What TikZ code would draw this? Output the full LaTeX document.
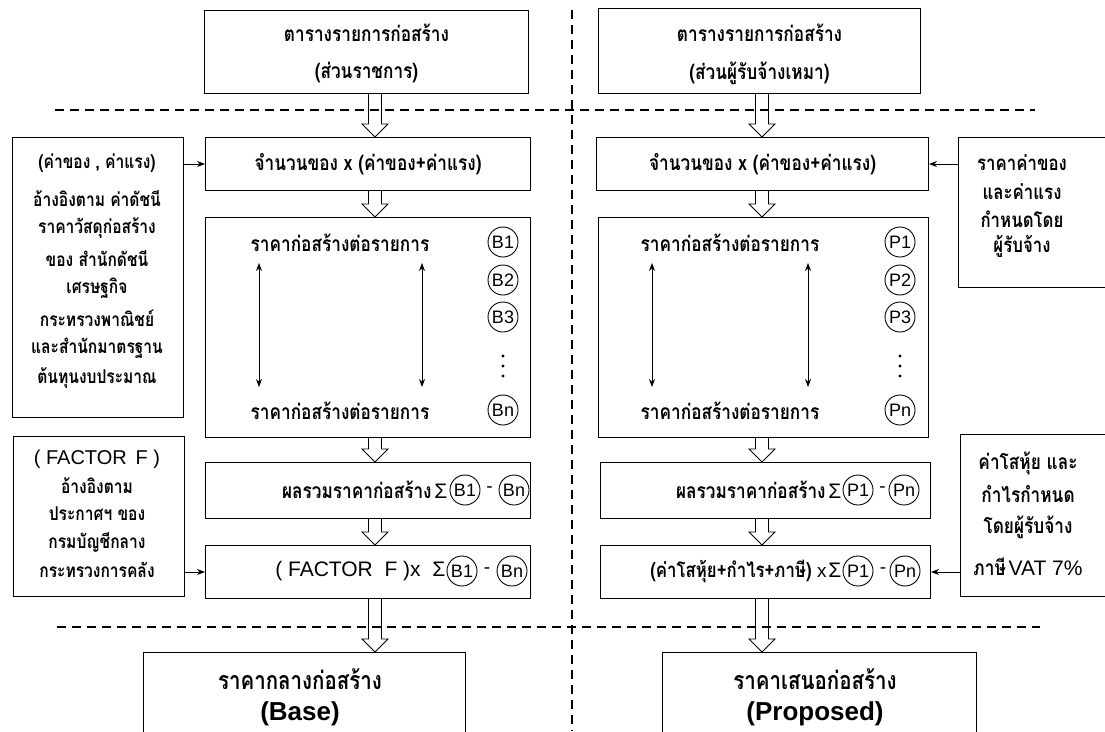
\documentclass[tikz,border=0pt]{standalone}
\usepackage{fontspec}
\setmainfont{Liberation Sans}
\newfontfamily\thai[Script=Thai, FakeStretch=0.82]{Loma}
\usetikzlibrary{arrows.meta,calc}
\newcommand\harrow[2]{%
  \draw[line width=0.9pt] let \p1=(#1), \p2=(#2) in
    (\x1-6.5pt,\y1) -- (\x1-6.5pt,\y2+13pt) -- (\x1-13pt,\y2+13pt) -- (\x2,\y2)
    -- (\x1+13pt,\y2+13pt) -- (\x1+6.5pt,\y2+13pt) -- (\x1+6.5pt,\y1);}
\begin{document}
\begin{tikzpicture}[x=1pt,y=-1pt,
  box/.style={draw, line width=1pt, inner sep=0pt, anchor=north west},
  th/.style={font=\thai\bfseries\fontsize{21}{25}\selectfont, inner sep=0pt},
  ths/.style={font=\thai\bfseries\fontsize{19}{25}\selectfont, inner sep=0pt},
  thr/.style={font=\thai\bfseries\fontsize{21}{25}\selectfont, inner sep=0pt},
  lat/.style={font=\fontsize{19}{25}\selectfont, inner sep=0pt},
  circ/.style={draw, circle, line width=0.9pt, minimum size=30pt, inner sep=0pt, font=\fontsize{18}{18}\selectfont},
  dashline/.style={line width=1.4pt, dash pattern=on 9pt off 6pt},
  side/.style={line width=0.9pt, -{Stealth[length=8pt,width=6pt]}},
  dbl/.style={line width=0.9pt, {Stealth[length=8pt,width=6pt]}-{Stealth[length=8pt,width=6pt]}}
]
\clip (0,0) rectangle (1105,731);
\fill[white] (0,0) rectangle (1105,731);

% dashed separators
\draw[dashline] (572,10) -- (572,731);
\draw[dashline] (55,110) -- (1035,110);
\draw[dashline] (57,627) -- (1040,627);

% ---------- left column ----------
\node[box, minimum width=324pt, minimum height=83pt] (tl) at (204,10) {};
\node[th] at ($(tl.north)+(0,23)$) {ตารางรายการก่อสร้าง};
\node[th] at ($(tl.north)+(0,63)$) {(ส่วนราชการ)};

\node[box, minimum width=325pt, minimum height=53pt] (ql) at (205,137) {};
\node[th] at (ql.center) {จำนวนของ x (ค่าของ+ค่าแรง)};

\node[box, minimum width=325pt, minimum height=220pt] (bl) at (205,217) {};
\node[th] at (340,243) {ราคาก่อสร้างต่อรายการ};
\node[th] at (340,411) {ราคาก่อสร้างต่อรายการ};
\coordinate (la1) at (259,263); \coordinate (la2) at (259,387);
\coordinate (lb1) at (422,263); \coordinate (lb2) at (422,387);
\draw[dbl] (la1) -- (la2);
\draw[dbl] (lb1) -- (lb2);
\node[circ] (b1) at (503,242) {B1};
\node[circ] (b2) at (503,280) {B2};
\node[circ] (b3) at (503,317) {B3};
\fill (503,356) circle (1.6pt) (503,366) circle (1.6pt) (503,376) circle (1.6pt);
\node[circ] (bn) at (503,410) {Bn};

\node[box, minimum width=325pt, minimum height=56pt] (sl) at (205,462) {};
\node[circ] (sb1) at (465,490) {B1};
\node[circ] (sbn) at (514,490) {Bn};
\node[anchor=east, inner sep=2pt] at (sb1.west) {{\thai\bfseries\fontsize{21}{25}\selectfont ผลรวมราคาก่อสร้าง} {\fontsize{21}{25}\selectfont Σ}};
\node[lat] at ($(sb1.east)!0.5!(sbn.west)$) {-};

\node[box, minimum width=325pt, minimum height=53pt] (fl) at (205,545) {};
\node[circ] (fb1) at (462,571) {B1};
\node[circ] (fbn) at (512,571) {Bn};
\node[anchor=east, inner sep=1pt, font=\fontsize{21}{25}\selectfont] at (fb1.west) {( FACTOR\; F )x\;\;{\fontsize{21}{25}\selectfont Σ}};
\node[lat] at ($(fb1.east)!0.5!(fbn.west)$) {-};

\node[box, minimum width=322pt, minimum height=110pt] (basebox) at (143,652) {};
\node[th, font=\thai\bfseries\fontsize{25}{25}\selectfont] at (300,679) {ราคากลางก่อสร้าง};
\node[font=\bfseries\fontsize{26}{26}\selectfont] at (300,714) {(Base)};

% left side boxes
\node[box, minimum width=171pt, minimum height=280pt] (lsb) at (12,137) {};
\foreach \yy/\tx in {163/{(ค่าของ , ค่าแรง)}, 198/{อ้างอิงตาม ค่าดัชนี}, 228/{ราคาวัสดุก่อสร้าง},
  258/{ของ สำนักดัชนี}, 288/{เศรษฐกิจ}, 318/{กระทรวงพาณิชย์}, 348/{และสำนักมาตรฐาน}, 378/{ต้นทุนงบประมาณ}}
  \node[ths] at (97,\yy) {\tx};
\node[box, minimum width=171pt, minimum height=160pt] (lfb) at (13,436) {};
\node[font=\fontsize{20}{20}\selectfont] at (97,459) {( FACTOR\, F )};
\foreach \yy/\tx in {486/{อ้างอิงตาม}, 514/{ประกาศฯ ของ}, 542/{กรมบัญชีกลาง}, 570/{กระทรวงการคลัง}}
  \node[ths] at (97,\yy) {\tx};

\draw[side] (ql.west -| lsb.east) -- (ql.west);
\draw[side] (fl.west -| lfb.east) -- (fl.west);

% ---------- right column ----------
\node[box, minimum width=322pt, minimum height=85pt] (tr) at (598,8) {};
\node[th] at ($(tr.north)+(0,25)$) {ตารางรายการก่อสร้าง};
\node[th] at ($(tr.north)+(0,65)$) {(ส่วนผู้รับจ้างเหมา)};

\node[box, minimum width=332pt, minimum height=53pt] (qr) at (596,137) {};
\node[th] at (qr.center) {จำนวนของ x (ค่าของ+ค่าแรง)};

\node[box, minimum width=330pt, minimum height=220pt] (br) at (598,217) {};
\node[th] at (730,243) {ราคาก่อสร้างต่อรายการ};
\node[th] at (730,411) {ราคาก่อสร้างต่อรายการ};
\coordinate (ra1) at (652,263); \coordinate (ra2) at (652,387);
\coordinate (rb1) at (808,263); \coordinate (rb2) at (808,387);
\draw[dbl] (ra1) -- (ra2);
\draw[dbl] (rb1) -- (rb2);
\node[circ] (p1) at (900,242) {P1};
\node[circ] (p2) at (900,280) {P2};
\node[circ] (p3) at (900,317) {P3};
\fill (900,356) circle (1.6pt) (900,366) circle (1.6pt) (900,376) circle (1.6pt);
\node[circ] (pn) at (900,410) {Pn};

\node[box, minimum width=330pt, minimum height=56pt] (sr) at (600,462) {};
\node[circ] (sp1) at (858,490) {P1};
\node[circ] (spn) at (904,490) {Pn};
\node[anchor=east, inner sep=1pt] at (sp1.west) {{\thai\bfseries\fontsize{21}{25}\selectfont ผลรวมราคาก่อสร้าง} {\fontsize{21}{25}\selectfont Σ}};
\node[lat] at ($(sp1.east)!0.6!(spn.west)$) {-};

\node[box, minimum width=330pt, minimum height=53pt] (fr) at (600,545) {};
\node[circ] (fp1) at (858,571) {P1};
\node[circ] (fpn) at (905,571) {Pn};
\node[anchor=east, inner sep=1pt] at (fp1.west) {{\thai\bfseries\fontsize{20.5}{25}\selectfont (ค่าโสหุ้ย+กำไร+ภาษี)}\; {\fontsize{19}{20}\selectfont x}\,{\fontsize{21}{25}\selectfont Σ}};
\node[lat] at ($(fp1.east)!0.6!(fpn.west)$) {-};

\node[box, minimum width=314pt, minimum height=110pt] (propbox) at (662,652) {};
\node[th, font=\thai\bfseries\fontsize{25}{25}\selectfont] at (815,679) {ราคาเสนอก่อสร้าง};
\node[font=\bfseries\fontsize{26}{26}\selectfont] at (815,714) {(Proposed)};

% right side boxes
\node[box, minimum width=160pt, minimum height=150pt] (rsb) at (958,137) {};
\foreach \yy/\tx in {163/{ราคาค่าของ}, 192/{และค่าแรง}, 219/{กำหนดโดย}, 246/{ผู้รับจ้าง}}
  \node[ths, font=\thai\bfseries\fontsize{20.5}{25}\selectfont] at (1022,\yy) {\tx};
\node[box, minimum width=160pt, minimum height=162pt] (rfb) at (960,434) {};
\foreach \yy/\tx in {463/{ค่าโสหุ้ย และ}, 494/{กำไรกำหนด}, 527/{โดยผู้รับจ้าง}}
  \node[thr] at (1028,\yy) {\tx};
\node[inner sep=0pt] at (1028,567) {{\thai\bfseries\fontsize{21}{25}\selectfont ภาษี} {\fontsize{21}{25}\selectfont VAT 7\%}};

\draw[side] (qr.east -| rsb.west) -- (qr.east);
\draw[side] (fr.east -| rfb.west) -- (fr.east);

% ---------- hollow flow arrows ----------
\coordinate (cl) at (375,0);
\coordinate (cr) at (762,0);
\harrow{tl.south -| cl}{ql.north -| cl}
\harrow{ql.south -| cl}{bl.north -| cl}
\harrow{bl.south -| cl}{sl.north -| cl}
\harrow{sl.south -| cl}{fl.north -| cl}
\harrow{fl.south -| cl}{basebox.north -| cl}
\harrow{tr.south -| cr}{qr.north -| cr}
\harrow{qr.south -| cr}{br.north -| cr}
\harrow{br.south -| cr}{sr.north -| cr}
\harrow{sr.south -| cr}{fr.north -| cr}
\harrow{fr.south -| cr}{propbox.north -| cr}
\end{tikzpicture}
\end{document}
